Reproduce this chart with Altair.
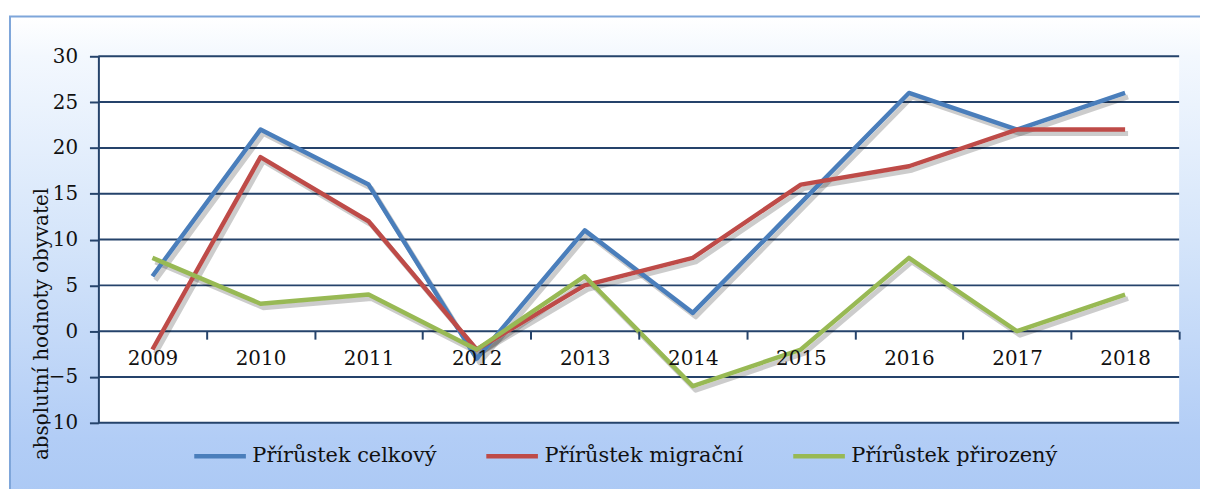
import altair as alt
import pandas as pd

years = ["2009", "2010", "2011", "2012", "2013", "2014", "2015", "2016", "2017", "2018"]
celkovy = [6, 22, 16, -3, 11, 2, 14, 26, 22, 26]
migracni = [-2, 19, 12, -2, 5, 8, 16, 18, 22, 22]
prirozeny = [8, 3, 4, -2, 6, -6, -2, 8, 0, 4]
series_names = ["Přírůstek celkový", "Přírůstek migrační", "Přírůstek přirozený"]
series_colors = ["#4a7ebb", "#be4b48", "#98b954"]
y_ticks = [-10, -5, 0, 5, 10, 15, 20, 25, 30]

W, H = 1088, 369
NAVY = "#25436b"
FONT = "DejaVu Serif"

rows = []
for name, vals in zip(series_names, [celkovy, migracni, prirozeny]):
    for yr, v in zip(years, vals):
        rows.append({"year": yr, "value": v, "series": name})
df = pd.DataFrame(rows)
grid_df = pd.DataFrame({"value": y_ticks})
one = pd.DataFrame({"a": [0]})

yscale = alt.Scale(domain=[-10, 30], nice=False, zero=False)
xscale = alt.Scale(type="band", paddingInner=0, paddingOuter=0, domain=years)

x_axis = alt.Axis(
    title=None, labelAngle=0, domain=False, grid=False, tickBand="extent",
    tickSize=8, tickColor=NAVY, tickWidth=2, offset=-(H * 10 / 40),
    labelFont=FONT, labelFontSize=20, labelColor="#111111", labelPadding=10,
    zindex=1,
)
y_axis = alt.Axis(
    values=y_ticks, grid=False, domainColor=NAVY, domainWidth=2,
    tickColor=NAVY, tickWidth=2, tickSize=9, labelPadding=12,
    labelFont=FONT, labelFontSize=20, labelColor="#111111",
    title="absolutní hodnoty obyvatel", titleFont=FONT, titleFontSize=20,
    titleFontWeight="normal", titleColor="#111111",
    titleX=-57, titleY=269, titleAngle=270, titleAlign="center",
    titleBaseline="middle", zindex=1,
)
xenc = alt.X("year:N", scale=xscale, bandPosition=0.5, axis=x_axis)
yenc = alt.Y("value:Q", scale=yscale, axis=y_axis)

frame = alt.Chart(one).mark_rect(
    color=alt.Gradient(
        gradient="linear", x1=0, x2=0, y1=0, y2=1,
        stops=[
            alt.GradientStop(color="#ffffff", offset=0),
            alt.GradientStop(color="#f3f8fe", offset=0.08),
            alt.GradientStop(color="#d5e5fa", offset=0.45),
            alt.GradientStop(color="#b2cdf6", offset=0.85),
            alt.GradientStop(color="#aac8f4", offset=1),
        ],
    ),
    stroke="#7ea6da", strokeWidth=2,
).encode(
    x=alt.value(-89), x2=alt.value(W + 60),
    y=alt.value(-40), y2=alt.value(H + 90),
)

plotbg = alt.Chart(one).mark_rect(color="#ffffff").encode(
    x=alt.value(0), x2=alt.value(W), y=alt.value(0), y2=alt.value(H)
)

grid = alt.Chart(grid_df).mark_rule(color=NAVY, strokeWidth=2).encode(y=yenc)

shadow = alt.Chart(df).mark_line(
    strokeWidth=5, color="#000000", opacity=0.2, xOffset=3, yOffset=4, strokeJoin="round"
).encode(x=xenc, y=yenc, detail="series:N")

lines = alt.Chart(df).mark_line(strokeWidth=4.5, strokeJoin="round").encode(
    x=xenc,
    y=yenc,
    color=alt.Color(
        "series:N",
        scale=alt.Scale(domain=series_names, range=series_colors),
        legend=alt.Legend(
            title=None, orient="none", direction="horizontal",
            legendX=94, legendY=374, symbolType="stroke", symbolSize=2700,
            symbolStrokeWidth=4.5, labelFont=FONT, labelFontSize=21,
            labelColor="#111111", columnPadding=40, labelOffset=4, padding=0,
            labelLimit=400, zindex=1,
        ),
    ),
)

chart = alt.layer(frame, plotbg, grid, shadow, lines).properties(
    width=W, height=H,
    autosize=alt.AutoSizeParams(type="none"),
    padding={"left": 91, "top": 47, "right": 21, "bottom": 65},
).configure_view(stroke=None)

chart.save("out.html", embed_options={"renderer": "svg", "actions": False})
